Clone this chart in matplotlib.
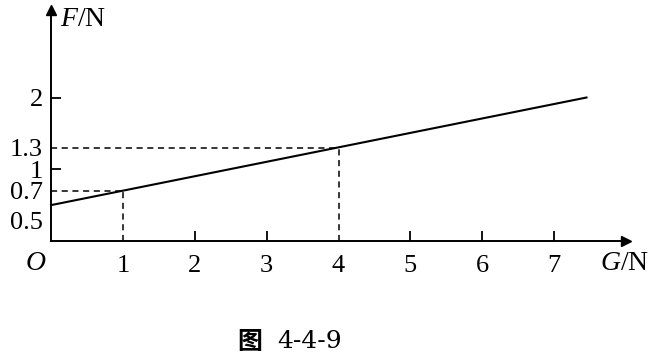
import matplotlib.pyplot as plt
from matplotlib.transforms import ScaledTranslation

plt.rcParams['mathtext.fontset'] = 'custom'
plt.rcParams['mathtext.it'] = 'Liberation Serif:italic'
plt.rcParams['mathtext.rm'] = 'Liberation Serif'

# straight line F = f(G)
G = [0, 7.45]
F = [0.5, 2.0]

# marked points (dashed guides)
mark_G = [1, 4]
mark_F = [0.7, 1.3]

x_ticks = [1, 2, 3, 4, 5, 6, 7]
x_tick_marks = [2, 3, 5, 6, 7]
y_ticks = [0.5, 0.7, 1, 1.3, 2]
y_labels = ['0.5', '0.7', '1', '1.3', '2']
y_tick_marks = [1, 2]

serif = 'Liberation Serif'

fig = plt.figure(figsize=(6.52, 3.56), dpi=100)
ax = fig.add_axes([51 / 652, 115 / 356, 575 / 652, 231 / 356])
ax.set_xlim(0, 8.0)
ax.set_ylim(0, 3.22)

for sp in ['top', 'right']:
    ax.spines[sp].set_visible(False)
for sp in ['left', 'bottom']:
    ax.spines[sp].set_linewidth(1.4)
    ax.spines[sp].set_color('black')

# arrow heads
ax.plot(1, 0, marker='>', color='black', markersize=7, transform=ax.transAxes, clip_on=False)
ax.plot(0, 1, marker='^', color='black', markersize=7, transform=ax.transAxes, clip_on=False)

# main line
ax.plot(G, F, color='black', linewidth=1.5, clip_on=False)

# dashed guides
for g, f in zip(mark_G, mark_F):
    ax.plot([0, g], [f, f], color='black', linewidth=1.1, linestyle=(0, (4, 3)))
    ax.plot([g, g], [0, f], color='black', linewidth=1.1, linestyle=(0, (4, 3)))

# ticks
ax.xaxis.remove_overlapping_locs = False
ax.yaxis.remove_overlapping_locs = False
ax.set_xticks(x_ticks, [str(t) for t in x_ticks])
ax.set_xticks(x_tick_marks, minor=True)
ax.set_yticks(y_ticks, y_labels)
ax.set_yticks(y_tick_marks, minor=True)
ax.tick_params(which='major', length=0, labelsize=19)
ax.tick_params(axis='y', which='major', pad=6)
ax.tick_params(axis='x', which='major', pad=10)
ax.tick_params(which='minor', direction='in', length=7, width=1.3)
for lab in ax.get_xticklabels() + ax.get_yticklabels():
    lab.set_fontfamily(serif)

# 0.5 label sits a bit lower than its value
lab05 = ax.get_yticklabels()[0]
lab05.set_transform(lab05.get_transform() + ScaledTranslation(0, -15 / 100, fig.dpi_scale_trans))

# axis names and origin
fig.text(36 / 652, 1 - 263 / 356, 'O', fontsize=20, fontfamily=serif, style='italic', ha='center', va='center')
fig.text(60 / 652, 1 - 20 / 356, r'$\mathit{F}$/N', fontsize=20, fontfamily=serif, ha='left', va='center')
fig.text(600 / 652, 1 - 263 / 356, r'$\mathit{G}$/N', fontsize=20, fontfamily=serif, ha='left', va='center')

# caption
fig.text(250 / 652, 1 - 342 / 356, '图', fontsize=18, fontfamily='Noto Sans CJK SC', fontweight='bold', ha='center', va='center')
fig.text(277 / 652, 1 - 342 / 356, '4-4-9', fontsize=18, fontfamily='DejaVu Serif', ha='left', va='center')

fig.savefig('out.png', dpi=100)
